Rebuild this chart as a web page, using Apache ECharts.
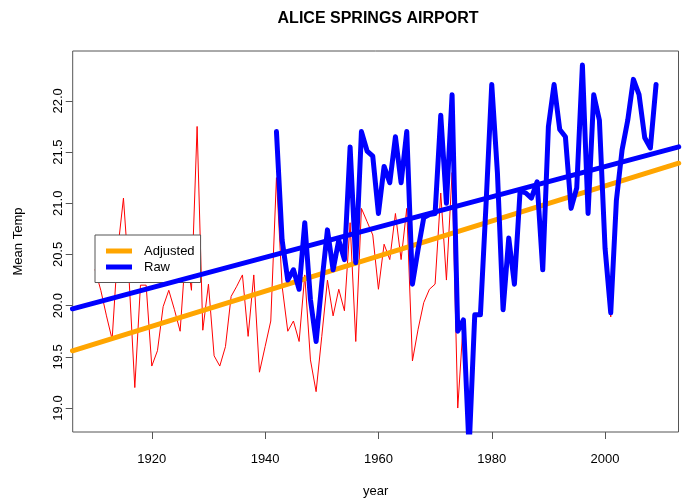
<!DOCTYPE html>
<html>
<head>
<meta charset="utf-8">
<script src="https://cdn.jsdelivr.net/npm/echarts@6/dist/echarts.min.js"></script>
<style>
html,body{margin:0;padding:0;background:#fff;}
#chart{width:687px;height:503px;}
</style>
</head>
<body>
<div id="chart"></div>
<script>
// ---- data ----
const chartTitle = 'ALICE SPRINGS AIRPORT';
const xTickValues = [1920, 1940, 1960, 1980, 2000];
const yTickValues = [19.0, 19.5, 20.0, 20.5, 21.0, 21.5, 22.0];

const adjustedStartYear = 1910;
const adjustedValues = [
  20.35, 20.15, 19.90, 19.67, 20.55, 21.05, 20.25, 19.20, 20.20, 20.20, // 1910-1919
  19.41, 19.56, 19.99, 20.15, 19.96, 19.75, 20.55, 20.15, 21.75, 19.76, // 1920-1929
  20.21, 19.51, 19.41, 19.60, 20.09, 20.19, 20.30, 19.70, 20.30, 19.35, // 1930-1939
  19.60, 19.85, 21.25, 20.19, 19.75, 19.85, 19.65, 20.30, 19.47, 19.16, // 1940-1949
  19.70, 20.25, 19.90, 20.16, 19.95, 20.81, 19.65, 20.95, 20.82, 20.69, // 1950-1959
  20.16, 20.60, 20.45, 20.90, 20.45, 20.95, 19.46, 19.77, 20.03, 20.16, // 1960-1969
  20.21, 21.10, 20.25, 21.30, 19.00, 19.86, 18.60, 19.91, 19.91, 21.00, // 1970-1979
  22.16, 21.30, 19.96, 20.66, 20.21, 21.12, 21.10, 21.05, 21.21, 20.35, // 1980-1989
  21.75, 22.16, 21.72, 21.65, 20.95, 21.15, 22.35, 20.90, 22.06, 21.81, // 1990-1999
  20.56, 19.89, 21.03, 21.52, 21.81, 22.21, 22.06, 21.64, 21.54, 22.16  // 2000-2009
];

const rawStartYear = 1942;
const rawValues = [
  21.70, 20.64, 20.25, 20.35, 20.16, 20.81, 20.06, 19.65,               // 1942-1949
  20.22, 20.74, 20.35, 20.64, 20.45, 21.55, 20.42, 21.70, 21.51, 21.46, // 1950-1959
  20.90, 21.36, 21.20, 21.65, 21.20, 21.70, 20.21, 20.55, 20.86, 20.89, // 1960-1969
  20.90, 21.86, 21.00, 22.06, 19.75, 19.86, 18.60, 19.91, 19.91, 21.00, // 1970-1979
  22.16, 21.30, 19.96, 20.66, 20.21, 21.12, 21.10, 21.05, 21.21, 20.35, // 1980-1989
  21.75, 22.16, 21.72, 21.65, 20.95, 21.15, 22.35, 20.90, 22.06, 21.81, // 1990-1999
  20.56, 19.93, 21.03, 21.52, 21.81, 22.21, 22.06, 21.64, 21.54, 22.16  // 2000-2009
];

// fitted trend lines, read at the plot edges
const trendYears = [1906, 2013];
const adjustedTrend = [19.559, 21.391];
const rawTrend = [19.969, 21.551];

// ---- build ----
function pairs(startYear, vals) {
  return vals.map((v, i) => [startYear + i, v]);
}
const FONT = '"Liberation Sans", Arial, Helvetica, sans-serif';

const chart = echarts.init(document.getElementById('chart'), null, {renderer: 'canvas'});
chart.setOption({
  animation: false,
  backgroundColor: '#ffffff',
  graphic: [{
    type: 'text',
    x: 378, y: 19,
    style: {
      text: chartTitle,
      x: 0, y: 0,
      textAlign: 'center',
      textVerticalAlign: 'middle',
      font: 'bold 16px ' + FONT,
      fill: '#000'
    }
  }],
  grid: {
    left: 72.7, right: 8.5, top: 51, bottom: 70.3,
    show: true, borderColor: '#555', borderWidth: 1, backgroundColor: 'transparent'
  },
  legend: {
    orient: 'vertical',
    left: 95, top: 235,
    data: ['Adjusted', 'Raw'],
    icon: 'rect',
    itemWidth: 26, itemHeight: 5, itemGap: 3,
    padding: [9.5, 6, 9, 11],
    backgroundColor: '#ffffff',
    borderColor: '#555', borderWidth: 1, borderRadius: 0,
    selectedMode: false,
    textStyle: {fontSize: 13, color: '#000', fontFamily: FONT, padding: [0, 0, 0, 7]}
  },
  xAxis: {
    type: 'value',
    min: 1906.04, max: 2012.96,
    name: 'year', nameLocation: 'middle', nameGap: 53,
    nameTextStyle: {fontSize: 13, color: '#000', fontFamily: FONT},
    axisLine: {show: false},
    axisTick: {show: true, customValues: xTickValues, length: 7, inside: false, lineStyle: {color: '#555'}},
    axisLabel: {customValues: xTickValues, margin: 21, fontSize: 13, color: '#000', fontFamily: FONT,
      formatter: v => String(v)},
    splitLine: {show: false}
  },
  yAxis: {
    type: 'value',
    min: 18.766, max: 22.487,
    name: 'Mean Temp', nameLocation: 'middle', nameGap: 48, nameRotate: 90,
    nameTextStyle: {fontSize: 13, color: '#000', fontFamily: FONT},
    axisLine: {show: false},
    axisTick: {show: true, customValues: yTickValues, length: 7, inside: false, lineStyle: {color: '#555'}},
    axisLabel: {customValues: yTickValues, rotate: 90, margin: 8, fontSize: 13, color: '#000', fontFamily: FONT,
      formatter: v => v.toFixed(1)},
    splitLine: {show: false}
  },
  series: [
    {
      name: 'Adjusted data', type: 'line', data: pairs(adjustedStartYear, adjustedValues),
      symbol: 'none', clip: true, z: 1,
      lineStyle: {color: '#ff0000', width: 1, cap: 'round', join: 'round'},
      itemStyle: {color: '#ff0000'}
    },
    {
      name: 'Adjusted', type: 'line', data: trendYears.map((y, i) => [y, adjustedTrend[i]]),
      symbol: 'none', clip: true, z: 2,
      lineStyle: {color: '#ffa500', width: 5, cap: 'round'},
      itemStyle: {color: '#ffa500'}
    },
    {
      name: 'Raw data', type: 'line', data: pairs(rawStartYear, rawValues),
      symbol: 'none', clip: true, z: 3,
      lineStyle: {color: '#0000ff', width: 5, cap: 'round', join: 'round'},
      itemStyle: {color: '#0000ff'}
    },
    {
      name: 'Raw', type: 'line', data: trendYears.map((y, i) => [y, rawTrend[i]]),
      symbol: 'none', clip: true, z: 4,
      lineStyle: {color: '#0000ff', width: 5, cap: 'round'},
      itemStyle: {color: '#0000ff'}
    }
  ]
});
</script>
</body>
</html>
